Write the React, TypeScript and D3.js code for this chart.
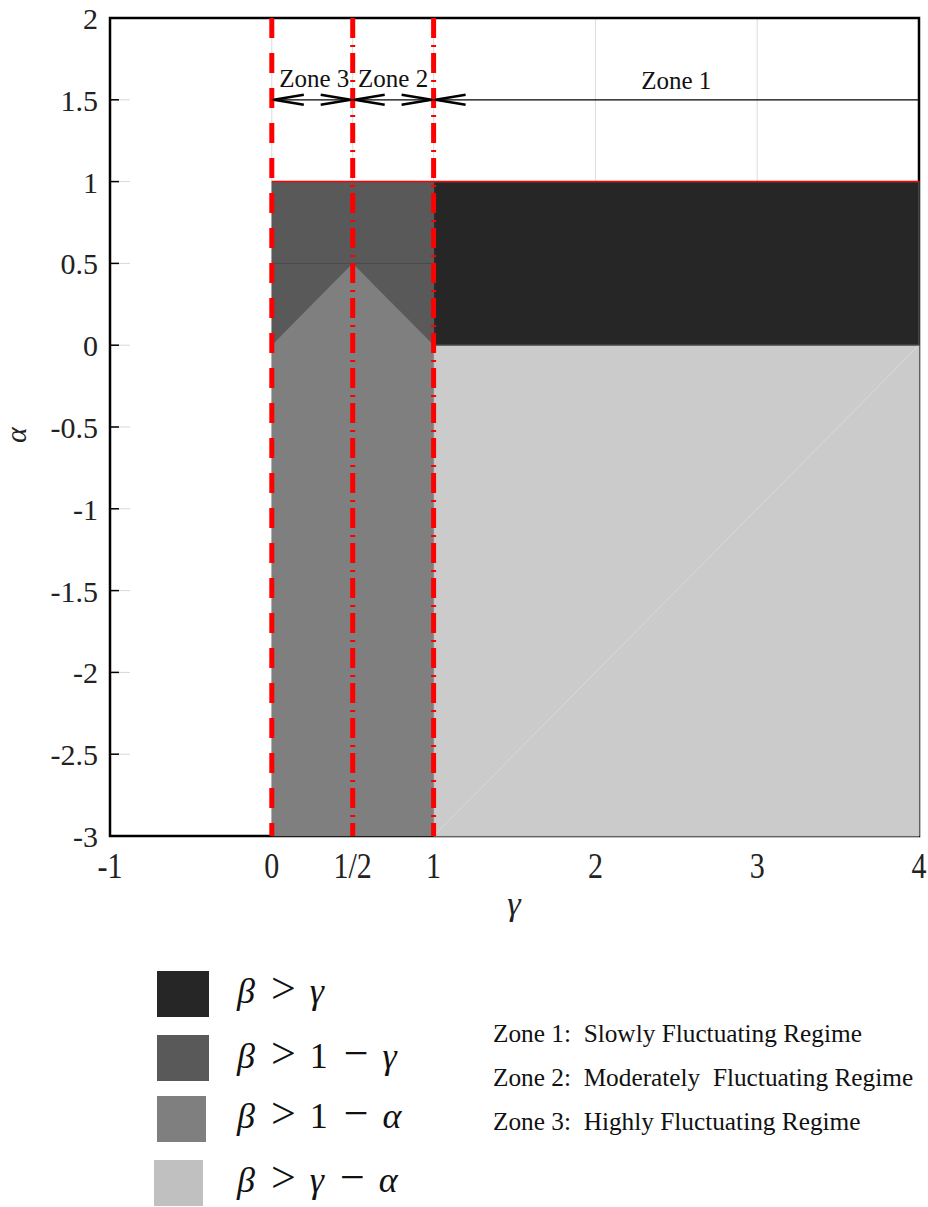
import React from "react";
import * as d3 from "d3";

// ---- data ----
const xTickValues = [-1, 0, 0.5, 1, 2, 3, 4];
const xTickLabels = ["-1", "0", "1/2", "1", "2", "3", "4"];
const yTickValues = [2, 1.5, 1, 0.5, 0, -0.5, -1, -1.5, -2, -2.5, -3];
const yTickLabels = ["2", "1.5", "1", "0.5", "0", "-0.5", "-1", "-1.5", "-2", "-2.5", "-3"];
const gridX = [0, 0.5, 1, 2, 3];

// phase regions (γ, α) polygons
const regionBetaGtGamma: [number, number][] = [[1, 0], [4, 0], [4, 1], [1, 1]];
const regionBetaGt1MinusGamma: [number, number][] = [[0, 0], [0, 1], [1, 1], [1, 0], [0.5, 0.5]];
const regionBetaGt1MinusAlpha: [number, number][] = [[0, -3], [0, 0], [0.5, 0.5], [1, 0], [1, -3]];
const regionBetaGtGammaMinusAlpha: [number, number][] = [[1, -3], [1, 0], [4, 0], [4, -3]];
const seamLine: [number, number][] = [[1, -3], [4, 0]];
const midLine: [number, number][] = [[0, 0.5], [1, 0.5]];
const alphaOneLine: [number, number][] = [[0, 1], [4, 1]];

const zoneBoundaries = [0, 0.5, 1];
const zoneBoundaryDash = ["20,15", "20,7,2,6", "20,7,2,6"];
const zoneLabels = ["Zone 3", "Zone 2", "Zone 1"];
const zoneFrom = [0, 0.5, 1];
const zoneTo = [0.5, 1, 4];
const zoneRightArrow = [true, true, false];
const zoneArrowAlpha = 1.5;

const legendLabels = [
  ["β", ">", "γ"],
  ["β", ">", "1", "−", "γ"],
  ["β", ">", "1", "−", "α"],
  ["β", ">", "γ", "−", "α"],
];
const legendColors = ["#262626", "#595959", "#7f7f7f", "#c0c0c0"];
const zoneDescriptions = [
  "Zone 1:  Slowly Fluctuating Regime",
  "Zone 2:  Moderately  Fluctuating Regime",
  "Zone 3:  Highly Fluctuating Regime",
];

// ---- layout ----
const W = 928;
const H = 1207;
const M = { left: 110, right: 919, top: 18, bottom: 836 };
const SERIF = "'Liberation Serif', 'Times New Roman', serif";

export default function App() {
  const x = d3.scaleLinear().domain([-1, 4]).range([M.left, M.right]);
  const y = d3.scaleLinear().domain([-3, 2]).range([M.bottom, M.top]);
  const poly = (pts: [number, number][]) =>
    d3.line<[number, number]>().x((d) => x(d[0])).y((d) => y(d[1]))(pts) + "Z";
  const seg = (pts: [number, number][]) =>
    d3.line<[number, number]>().x((d) => x(d[0])).y((d) => y(d[1]))(pts) || "";

  const ay = y(zoneArrowAlpha);
  const legendRowY = [971, 1035, 1096, 1160];
  const legendBase = [1003, 1068, 1128, 1192];
  const descBase = [1042, 1086, 1130];

  const isGreek = (t: string) => t === "β" || t === "γ" || t === "α";
  const isOp = (t: string) => t === ">" || t === "−";

  return (
    <svg
      width={W}
      height={H}
      style={{ position: "absolute", left: 0, top: 0, background: "#fff" }}
      fontFamily={SERIF}
    >
      {/* grid */}
      {gridX.map((g, i) => (
        <line key={"g" + i} x1={x(g)} x2={x(g)} y1={M.top} y2={M.bottom} stroke="#dcdcdc" strokeWidth={1} />
      ))}
      {/* y ticks */}
      {yTickValues.map((v, i) => (
        <g key={"yt" + i}>
          <line x1={M.left} x2={M.left + 20} y1={y(v)} y2={y(v)} stroke="#d8d8d8" strokeWidth={1} />
          <line x1={M.left} x2={M.left + 9} y1={y(v)} y2={y(v)} stroke="#000" strokeWidth={1.5} />
          <text x={98} y={y(v) + 11} textAnchor="end" fontSize={30} fill="#222">
            {yTickLabels[i]}
          </text>
        </g>
      ))}
      {/* x tick labels */}
      {xTickValues.map((v, i) => (
        <text
          key={"xt" + i}
          transform={`translate(${x(v)},878) scale(1,1.22)`}
          textAnchor="middle"
          fontSize={30}
          fill="#222"
        >
          {xTickLabels[i]}
        </text>
      ))}

      {/* frame */}
      <rect x={M.left} y={M.top} width={M.right - M.left} height={M.bottom - M.top} fill="none" stroke="#000" strokeWidth={2.5} />

      {/* regions */}
      <path d={poly(regionBetaGtGammaMinusAlpha)} fill="#cbcbcb" stroke="#c4c4c4" strokeWidth={1} />
      <path d={seg(seamLine)} stroke="#dadada" strokeWidth={1} fill="none" />
      <path d={poly(regionBetaGt1MinusAlpha)} fill="#7f7f7f" stroke="#7f7f7f" strokeWidth={0.5} />
      <path d={poly(regionBetaGt1MinusGamma)} fill="#595959" stroke="#595959" strokeWidth={0.5} />
      <path d={seg(midLine)} stroke="#4a4a4a" strokeWidth={1} fill="none" />
      <path d={poly(regionBetaGtGamma)} fill="#262626" stroke="#555" strokeWidth={1.2} />
      <path d={seg(alphaOneLine)} stroke="#ff0000" strokeWidth={1.5} fill="none" />

      {/* zone boundaries */}
      {zoneBoundaries.map((b, i) => (
        <line
          key={"zb" + i}
          x1={x(b)}
          x2={x(b)}
          y1={M.top}
          y2={M.bottom}
          stroke="#ff0000"
          strokeWidth={5}
          strokeDasharray={zoneBoundaryDash[i]}
        />
      ))}

      {/* zone arrows */}
      <line x1={x(0)} x2={M.right} y1={ay} y2={ay} stroke="#000" strokeWidth={1.3} />
      {zoneLabels.map((lab, i) => {
        const x0 = x(zoneFrom[i]) + 2;
        const x1 = x(zoneTo[i]) - 2;
        return (
          <g key={"z" + i}>
            <path d={`M${x0 + 30},${ay - 5}L${x0},${ay}L${x0 + 30},${ay + 5}`} fill="none" stroke="#000" strokeWidth={2.6} />
            {zoneRightArrow[i] && (
              <path d={`M${x1 - 30},${ay - 5}L${x1},${ay}L${x1 - 30},${ay + 5}`} fill="none" stroke="#000" strokeWidth={2.6} />
            )}
            <text
              x={(x(zoneFrom[i]) + x(zoneTo[i])) / 2 + (i === 0 ? 2 : 0)}
              y={i === 2 ? 89 : 87}
              textAnchor="middle"
              fontSize={25}
              fill="#111"
            >
              {lab}
            </text>
          </g>
        );
      })}

      {/* axis labels */}
      <text transform="translate(26,435) rotate(-90)" textAnchor="middle" fontSize={30} fontStyle="italic" fill="#222">
        α
      </text>
      <text x={514} y={915} textAnchor="middle" fontSize={34} fontStyle="italic" fill="#222">
        γ
      </text>

      {/* legend */}
      {legendLabels.map((tokens, i) => (
        <g key={"lg" + i}>
          <rect x={i === 3 ? 154 : 157} y={legendRowY[i]} width={i >= 2 ? 49 : 52} height={46} fill={legendColors[i]} />
          <text x={237} y={legendBase[i]} fontSize={36} fill="#111" style={{ whiteSpace: "pre" }} wordSpacing={5}>
            {tokens.map((t, k) => (
              <tspan
                key={k}
                fontStyle={isGreek(t) ? "italic" : "normal"}
                fontSize={isOp(t) ? 44 : 36}
              >
                {(k > 0 ? " " : "") + t}
              </tspan>
            ))}
          </text>
        </g>
      ))}

      {/* zone descriptions */}
      {zoneDescriptions.map((d, i) => (
        <text key={"zd" + i} x={493} y={descBase[i]} fontSize={25.3} fill="#111" style={{ whiteSpace: "pre" }}>
          {d}
        </text>
      ))}
    </svg>
  );
}
